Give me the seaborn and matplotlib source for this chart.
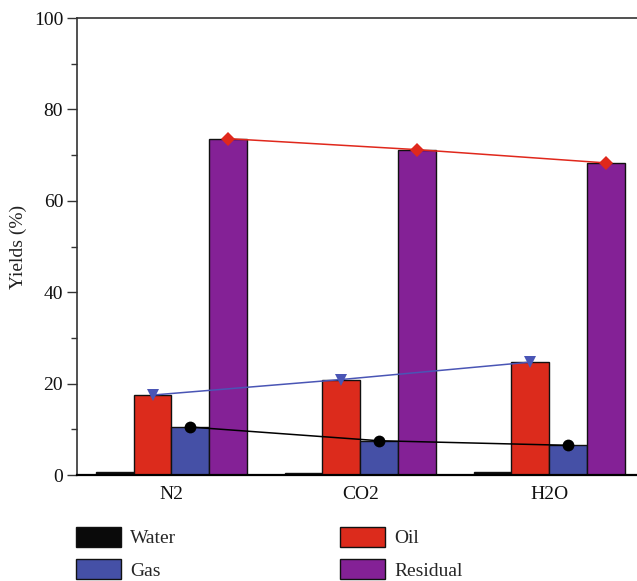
import matplotlib
matplotlib.use("Agg")
import matplotlib.pyplot as plt
import seaborn as sns
import pandas as pd
from matplotlib.ticker import MultipleLocator

categories = ["N2", "CO2", "H2O"]
series = ["Water", "Oil", "Gas", "Residual"]
water = [0.6, 0.4, 0.6]
oil = [17.5, 20.9, 24.7]
gas = [10.5, 7.5, 6.5]
residual = [73.6, 71.2, 68.3]
colors = ["#0a0a0a", "#dc2b1c", "#4550a6", "#842196"]
line_colors = {"Oil": "#4a55b5", "Gas": "#000000", "Residual": "#e0281c"}
line_markers = {"Oil": "v", "Gas": "o", "Residual": "D"}

sns.set_theme(style="ticks")
plt.rcParams["font.family"] = ["Liberation Serif", "DejaVu Serif"]

values = {"Water": water, "Oil": oil, "Gas": gas, "Residual": residual}
rows = []
for s in series:
    for c, v in zip(categories, values[s]):
        rows.append({"Atmosphere": c, "Series": s, "Yield": v})
df = pd.DataFrame(rows)

fig = plt.figure(figsize=(6.37, 5.81), dpi=100)
ax = fig.add_axes([0.121, 0.1824, 0.879, 0.7866])

sns.barplot(data=df, x="Atmosphere", y="Yield", hue="Series", order=categories,
            hue_order=series, palette=colors, width=0.8, saturation=1,
            edgecolor="#111111", linewidth=1.0, ax=ax, legend=False)

containers = ax.containers
for s, cont in zip(series, containers):
    if s in line_colors:
        xs = [p.get_x() + p.get_width() / 2 for p in cont.patches]
        ax.plot(xs, values[s], color=line_colors[s], lw=1.1,
                marker=line_markers[s], markersize=8.5 if s != "Residual" else 7.5,
                markeredgewidth=0, zorder=5)

ax.set_ylim(0, 100)
ax.set_xlim(-0.5, 2.466)
ax.yaxis.set_major_locator(MultipleLocator(20))
ax.yaxis.set_minor_locator(MultipleLocator(10))
ax.tick_params(axis="y", which="major", direction="out", length=7, width=1,
               labelsize=14, colors="#333333", labelcolor="#111111", pad=3)
ax.tick_params(axis="y", which="minor", direction="out", length=4, width=1, colors="#333333")
ax.tick_params(axis="x", length=0, labelsize=14, labelcolor="#111111", pad=8)
ax.set_xlabel("")
ax.set_ylabel("Yields (%)", fontsize=14, color="#222222", labelpad=5)

for sp in ["left", "top", "bottom"]:
    ax.spines[sp].set_visible(True)
    ax.spines[sp].set_color("#333333")
    ax.spines[sp].set_linewidth(1.2)
ax.spines["right"].set_visible(False)
ax.spines["bottom"].set_color("#000000")
ax.spines["bottom"].set_linewidth(1.6)

handles = [containers[0].patches[0], containers[2].patches[0],
           containers[1].patches[0], containers[3].patches[0]]
labels = ["Water", "Gas", "Oil", "Residual"]
fig.legend(handles, labels, ncol=2, frameon=False, loc="upper left",
           bbox_to_anchor=(0.107, 0.107), fontsize=14, handlelength=2.3,
           handleheight=1.2, columnspacing=8.4, labelspacing=0.62,
           handletextpad=0.5, borderaxespad=0)

fig.savefig("out.png", dpi=100)
